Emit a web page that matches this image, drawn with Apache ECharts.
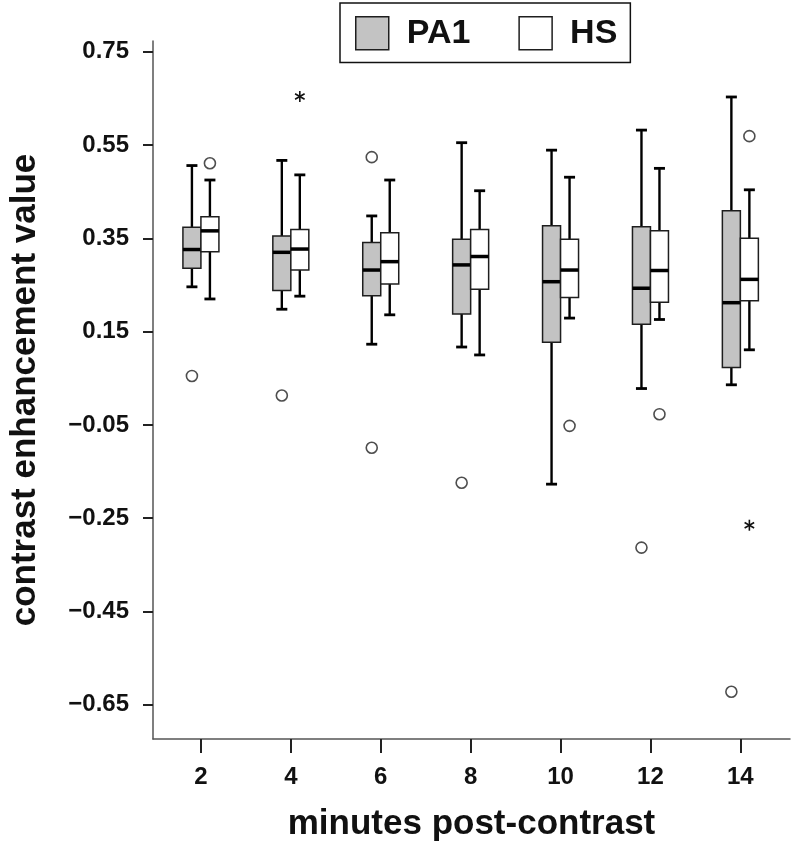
<!DOCTYPE html>
<html>
<head>
<meta charset="utf-8">
<script src="https://cdn.jsdelivr.net/npm/echarts@6/dist/echarts.min.js"></script>
<style>
html,body{margin:0;padding:0;background:#fff;}
#chart{width:793px;height:847px;}
</style>
</head>
<body>
<div id="chart"></div>
<script>
// ---- data ----
const categories = [2, 4, 6, 8, 10, 12, 14];
const yTicks = [-0.65, -0.45, -0.25, -0.05, 0.15, 0.35, 0.55, 0.75];

const pa1Min    = [0.246, 0.198, 0.123, 0.117, -0.177, 0.028, 0.036];
const pa1Q1     = [0.286, 0.238, 0.227, 0.188, 0.127, 0.166, 0.073];
const pa1Median = [0.326, 0.320, 0.282, 0.293, 0.257, 0.243, 0.212];
const pa1Q3     = [0.374, 0.355, 0.341, 0.348, 0.377, 0.375, 0.409];
const pa1Max    = [0.506, 0.517, 0.398, 0.555, 0.539, 0.582, 0.653];

const hsMin    = [0.220, 0.226, 0.186, 0.100, 0.179, 0.176, 0.111];
const hsQ1     = [0.321, 0.282, 0.252, 0.241, 0.223, 0.213, 0.216];
const hsMedian = [0.366, 0.327, 0.300, 0.311, 0.282, 0.281, 0.262];
const hsQ3     = [0.396, 0.369, 0.362, 0.369, 0.348, 0.366, 0.350];
const hsMax    = [0.475, 0.486, 0.475, 0.452, 0.481, 0.500, 0.454];

const pa1Outliers = [[2, 0.055], [4, 0.013], [6, 0.524], [6, -0.099], [8, -0.174], [12, -0.313], [14, -0.622]];
const hsOutliers  = [[2, 0.511], [10, -0.052], [12, -0.027], [14, 0.569]];
const hsExtremes  = [[4, 0.654], [14, -0.265]];

// ---- styling ----
const FONT = '"Liberation Sans", Arial, sans-serif';
const GRAY = '#c3c3c3';
const EDGE = '#1e1e1e';
const OFF = 9;      // px offset of each box from the category position
const HALF = 9;     // half box width px
const CAP = 5.5;    // half cap width px

function boxData(mins, q1, med, q3, maxs) {
  return categories.map((c, i) => [c, mins[i], q1[i], med[i], q3[i], maxs[i]]);
}

function boxRender(offset, fill) {
  return function (params, api) {
    const x = api.value(0);
    const cx = api.coord([x, 0])[0] + offset;
    const y = k => api.coord([x, api.value(k)])[1];
    const yMin = y(1), yQ1 = y(2), yMed = y(3), yQ3 = y(4), yMax = y(5);
    const wl = { stroke: '#000', lineWidth: 2.4 };
    const cl = { stroke: '#000', lineWidth: 2.8 };
    return {
      type: 'group',
      children: [
        { type: 'line', shape: { x1: cx, y1: yMax, x2: cx, y2: yQ3 }, style: wl },
        { type: 'line', shape: { x1: cx, y1: yQ1, x2: cx, y2: yMin }, style: wl },
        { type: 'line', shape: { x1: cx - CAP, y1: yMax, x2: cx + CAP, y2: yMax }, style: cl },
        { type: 'line', shape: { x1: cx - CAP, y1: yMin, x2: cx + CAP, y2: yMin }, style: cl },
        { type: 'rect', shape: { x: cx - HALF, y: yQ3, width: HALF * 2, height: yQ1 - yQ3 },
          style: { fill: fill, stroke: EDGE, lineWidth: 1.5 } },
        { type: 'line', shape: { x1: cx - HALF, y1: yMed, x2: cx + HALF, y2: yMed },
          style: { stroke: '#000', lineWidth: 3.5 } }
      ]
    };
  };
}

function starRender(offset) {
  return function (params, api) {
    const p = api.coord([api.value(0), api.value(1)]);
    const cx = p[0] + offset, cy = p[1];
    const r = 5.5;
    const children = [];
    for (let k = 0; k < 3; k++) {
      const a = Math.PI / 2 + k * Math.PI / 3;
      children.push({ type: 'line',
        shape: { x1: cx - r * Math.cos(a), y1: cy - r * Math.sin(a), x2: cx + r * Math.cos(a), y2: cy + r * Math.sin(a) },
        style: { stroke: '#111', lineWidth: 1.6 } });
    }
    return { type: 'group', children: children };
  };
}

const chart = echarts.init(document.getElementById('chart'), null, { renderer: 'canvas' });
chart.setOption({
  backgroundColor: '#fff',
  animation: false,
  textStyle: { fontFamily: FONT },
  legend: {
    selectedMode: false,
    left: 340, top: 3,
    itemWidth: 33, itemHeight: 33, itemGap: 48,
    borderColor: '#111', borderWidth: 1.5,
    padding: [13, 13, 12, 15],
    textStyle: { fontFamily: FONT, fontSize: 34, fontWeight: 'bold', color: '#111', padding: [0, 0, 0, 13] },
    data: [
      { name: 'PA1', icon: 'rect', itemStyle: { color: GRAY, borderColor: EDGE, borderWidth: 1.5 } },
      { name: 'HS', icon: 'rect', itemStyle: { color: '#fff', borderColor: EDGE, borderWidth: 1.5 } }
    ]
  },
  grid: { left: 152, right: 3, top: 41, bottom: 108, containLabel: false },
  xAxis: {
    type: 'value',
    min: 0.934, max: 15.104,
    name: 'minutes post-contrast',
    nameLocation: 'middle',
    nameGap: 68,
    nameTextStyle: { fontFamily: FONT, fontSize: 35, fontWeight: 'bold', color: '#111' },
    axisLine: { show: true, onZero: false, lineStyle: { color: '#555', width: 1.5 } },
    axisTick: { show: true, customValues: categories, length: 14, lineStyle: { color: '#222', width: 2 } },
    axisLabel: { customValues: categories, margin: 26, fontFamily: FONT, fontSize: 24, fontWeight: 'bold', color: '#111' },
    splitLine: { show: false }
  },
  yAxis: {
    type: 'value',
    min: -0.7233, max: 0.773,
    name: 'contrast enhancement value',
    nameLocation: 'middle',
    nameGap: 110,
    nameTextStyle: { fontFamily: FONT, fontSize: 35, fontWeight: 'bold', color: '#111' },
    axisLine: { show: true, onZero: false, lineStyle: { color: '#555', width: 1.5 } },
    axisTick: { show: true, customValues: yTicks, length: 10, lineStyle: { color: '#222', width: 2 } },
    axisLabel: {
      customValues: yTicks, margin: 24, fontFamily: FONT, fontSize: 24, fontWeight: 'bold', color: '#111',
      formatter: v => v.toFixed(2).replace('-', '\u2212')
    },
    splitLine: { show: false }
  },
  series: [
    { name: 'PA1', type: 'custom', renderItem: boxRender(-OFF, GRAY),
      itemStyle: { color: GRAY }, encode: { x: 0, y: [1, 2, 3, 4, 5] },
      data: boxData(pa1Min, pa1Q1, pa1Median, pa1Q3, pa1Max), z: 2 },
    { name: 'HS', type: 'custom', renderItem: boxRender(OFF, '#fff'),
      itemStyle: { color: '#fff' }, encode: { x: 0, y: [1, 2, 3, 4, 5] },
      data: boxData(hsMin, hsQ1, hsMedian, hsQ3, hsMax), z: 2 },
    { name: 'PA1 outliers', type: 'scatter', data: pa1Outliers, symbol: 'circle', symbolSize: 11,
      symbolOffset: [-OFF, 0], itemStyle: { color: '#fff', borderColor: '#222', borderWidth: 1.6 }, z: 3 },
    { name: 'HS outliers', type: 'scatter', data: hsOutliers, symbol: 'circle', symbolSize: 11,
      symbolOffset: [OFF, 0], itemStyle: { color: '#fff', borderColor: '#222', borderWidth: 1.6 }, z: 3 },
    { name: 'HS extremes', type: 'custom', renderItem: starRender(OFF), data: hsExtremes,
      encode: { x: 0, y: 1 }, z: 3 }
  ]
});
</script>
</body>
</html>
